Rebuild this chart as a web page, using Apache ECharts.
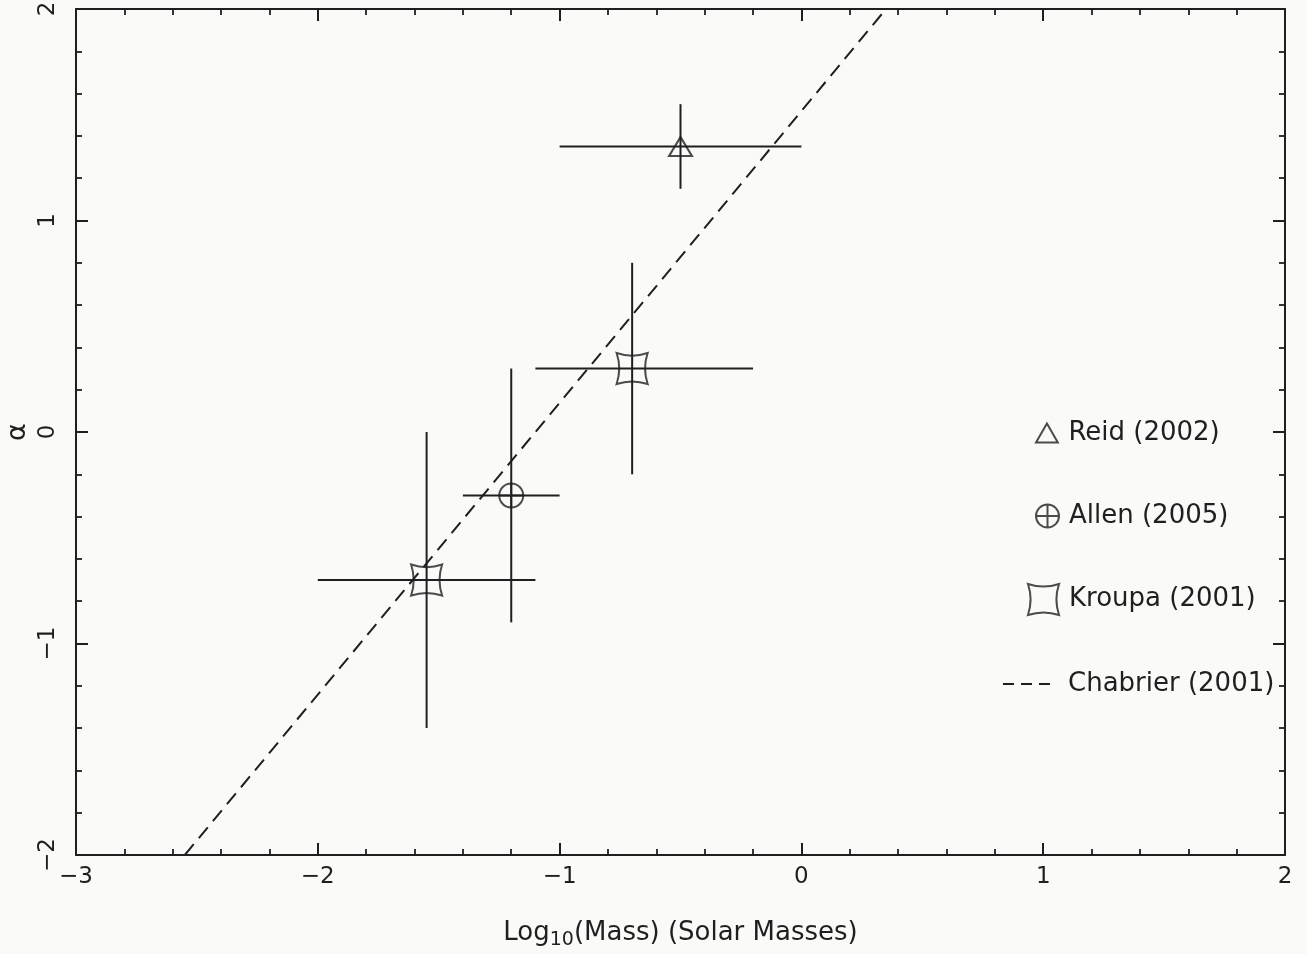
<!DOCTYPE html>
<html>
<head>
<meta charset="utf-8">
<script src="https://cdn.jsdelivr.net/npm/echarts@6/dist/echarts.min.js"></script>
<style>
html,body{margin:0;padding:0;background:#fafaf9;}
#chart{width:1307px;height:954px;}
</style>
</head>
<body>
<div id="chart"></div>
<script>
// ---- data ----
const xTickValues = [-3, -2, -1, 0, 1, 2];
const xTickLabels = ['\u22123', '\u22122', '\u22121', '0', '1', '2'];
const yTickValues = [-2, -1, 0, 1, 2];
const yTickLabels = ['\u22122', '\u22121', '0', '1', '2'];

const reidX = [-0.5];   const reidY = [1.35];
const reidXLow = [-1.0]; const reidXHigh = [0.0];
const reidYLow = [1.15]; const reidYHigh = [1.55];

const allenX = [-1.2];   const allenY = [-0.3];
const allenXLow = [-1.4]; const allenXHigh = [-1.0];
const allenYLow = [-0.9]; const allenYHigh = [0.3];

const kroupaX = [-0.7, -1.55];   const kroupaY = [0.3, -0.7];
const kroupaXLow = [-1.1, -2.0]; const kroupaXHigh = [-0.2, -1.1];
const kroupaYLow = [-0.2, -1.4]; const kroupaYHigh = [0.8, 0.0];

const chabrierX = [-2.55, 0.35];
const chabrierY = [-2, 2];

// ---- build ----
function pts(xs, ys){ return xs.map((x,i)=>[x, ys[i]]); }
function errs(xs, ys, xl, xh, yl, yh){ return xs.map((x,i)=>[x, ys[i], xl[i], xh[i], yl[i], yh[i]]); }
function lbl(values, labels){ return v => { const i = values.indexOf(Math.round(v*1000)/1000); return i >= 0 ? labels[i] : ''; }; }

const INK = '#1f1f1f';
const FONT = 'DejaVu Sans';
const LW = 2;
const TRI = 'path://M0,-10L11.5,10L-11.5,10Z';
const OPLUS = 'path://M0,-12A12,12,0,1,1,0,12A12,12,0,1,1,0,-12ZM-12,0L12,0M0,-12L0,12';
const KSQ = 'path://M-15,-15Q0,-10,15,-15Q10,0,15,15Q0,10,-15,15Q-10,0,-15,-15Z';
const DASH3 = 'path://M0,0h11v2h-11zM18,0h11v2h-11zM36,0h11v2h-11z';

const hollow = {color:'rgba(0,0,0,0)', borderColor:INK, borderWidth:LW};

const errData = [].concat(
  errs(reidX, reidY, reidXLow, reidXHigh, reidYLow, reidYHigh),
  errs(allenX, allenY, allenXLow, allenXHigh, allenYLow, allenYHigh),
  errs(kroupaX, kroupaY, kroupaXLow, kroupaXHigh, kroupaYLow, kroupaYHigh)
);

function axisCommon(showLabels, pos){
  return {
    type:'value', position:pos,
    axisLine:{show:true, onZero:false, lineStyle:{color:INK, width:LW}},
    axisTick:{show:true, inside:true, length:12, lineStyle:{color:INK, width:LW}},
    minorTick:{show:true, splitNumber:5, length:6, lineStyle:{color:INK, width:1.8}},
    splitLine:{show:false},
    minorSplitLine:{show:false},
    axisLabel:{show:showLabels}
  };
}

const xMain = Object.assign(axisCommon(true,'bottom'), {
  min:-3, max:2, interval:1,
  name:'Log{sub|10}(Mass) (Solar Masses)', nameLocation:'middle', nameGap:62,
  nameMoveOverlap:false,
  nameTextStyle:{fontFamily:FONT, fontSize:26, color:INK,
    rich:{sub:{fontFamily:FONT, fontSize:19, color:INK, verticalAlign:'bottom', padding:[14,0,0,0]}}},
  axisLabel:{show:true, formatter:lbl(xTickValues, xTickLabels), fontFamily:FONT, fontSize:23, color:INK, margin:11}
});
const xTop = Object.assign(axisCommon(false,'top'), {min:-3, max:2, interval:1});
const yMain = Object.assign(axisCommon(true,'left'), {
  min:-2, max:2, interval:1,
  name:'\u03b1', nameLocation:'middle', nameGap:45,
  nameMoveOverlap:false,
  nameTextStyle:{fontFamily:FONT, fontSize:27, color:INK},
  axisLabel:{show:true, rotate:90, formatter:lbl(yTickValues, yTickLabels), fontFamily:FONT, fontSize:23, color:INK, margin:16}
});
const yRight = Object.assign(axisCommon(false,'right'), {min:-2, max:2, interval:1});

function legendAt(name, icon, top, left, w, h, style, gap){
  return {
    data:[{name:name, icon:icon, itemStyle:style}],
    orient:'vertical', left:left, top:top, padding:0,
    itemWidth:w, itemHeight:h, itemGap:0, selectedMode:false,
    textStyle:{fontFamily:FONT, fontSize:26, color:INK, padding:[0,0,0,gap]}
  };
}

const option = {
  backgroundColor:'#fafaf9',
  animation:false,
  grid:{left:76, right:22, top:9, bottom:99, containLabel:false, outerBoundsMode:'none'},
  xAxis:[xMain, xTop],
  yAxis:[yMain, yRight],
  legend:[
    legendAt('Reid (2002)', TRI, 420, 1035, 23, 19, hollow, 5),
    legendAt('Allen (2005)', OPLUS, 503, 1035, 23, 23, hollow, 5),
    legendAt('Kroupa (2001)', KSQ, 583, 1027, 31, 31, hollow, 5),
    legendAt('Chabrier (2001)', DASH3, 671, 1003, 47, 2, {color:INK, borderWidth:0}, 13)
  ],
  series:[
    {
      type:'custom', name:'errorbars', silent:true,
      data:errData,
      encode:{x:[0,2,3], y:[1,4,5]},
      renderItem:function(params, api){
        const l = api.coord([api.value(2), api.value(1)]);
        const r = api.coord([api.value(3), api.value(1)]);
        const b = api.coord([api.value(0), api.value(4)]);
        const t = api.coord([api.value(0), api.value(5)]);
        const st = {stroke:INK, lineWidth:LW};
        return {type:'group', children:[
          {type:'line', shape:{x1:l[0], y1:l[1], x2:r[0], y2:r[1]}, style:st},
          {type:'line', shape:{x1:b[0], y1:b[1], x2:t[0], y2:t[1]}, style:st}
        ]};
      },
      z:2
    },
    {type:'line', name:'Chabrier (2001)', data:pts(chabrierX, chabrierY), symbol:'none',
      color:INK, lineStyle:{color:INK, width:LW, type:[14,8]}, clip:true, z:1},
    {type:'scatter', name:'Reid (2002)', data:pts(reidX, reidY), symbol:TRI, symbolSize:[23,19], itemStyle:hollow, z:3},
    {type:'scatter', name:'Allen (2005)', data:pts(allenX, allenY), symbol:OPLUS, symbolSize:24, itemStyle:hollow, z:3},
    {type:'scatter', name:'Kroupa (2001)', data:pts(kroupaX, kroupaY), symbol:KSQ, symbolSize:31, itemStyle:hollow, z:3}
  ]
};

const chart = echarts.init(document.getElementById('chart'), null, {renderer:'canvas'});
chart.setOption(option);
</script>
</body>
</html>
